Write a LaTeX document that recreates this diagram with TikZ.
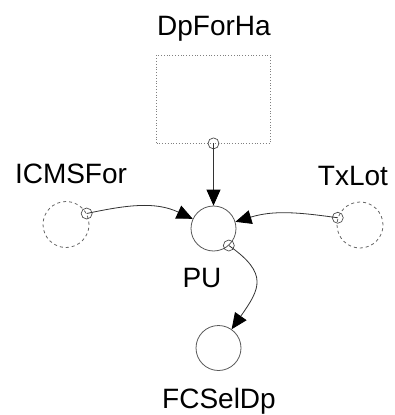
\documentclass[tikz,border=0pt]{standalone}
\usepackage{fontspec}
\setmainfont{Liberation Sans}
\usetikzlibrary{arrows.meta}
\begin{document}
\begin{tikzpicture}[x=1pt,y=-1pt,
  lbl/.style={inner sep=0pt, anchor=base, font=\fontsize{28}{28}\selectfont},
  aux/.style={circle, draw=gray!70!black, line width=0.8pt, minimum size=45pt, inner sep=0pt},
  cloud/.style={circle, draw=gray!80!black, dashed, line width=0.8pt, minimum size=46pt, inner sep=0pt},
  port/.style={circle, draw=gray!60!black, line width=0.7pt, minimum size=11pt, inner sep=0pt},
  stockbox/.style={draw=gray, dotted, line width=0.8pt, minimum width=114pt, minimum height=88pt, inner sep=0pt},
  link/.style={draw=gray!40!black, line width=0.8pt, -{Triangle[length=16pt,width=14pt,color=black]}},
]
\useasboundingbox (0,0) rectangle (395,415);
% stock
\node[stockbox] (dp) at (213.5,99) {};
\node[lbl] (dplbl) at (214,35) {DpForHa};
% auxiliaries
\node[aux] (pu) at (213.5,228.5) {};
\node[lbl] (pulbl) at (202,287) {PU};
\node[aux] (fc) at (218.5,348) {};
\node[lbl] (fclbl) at (219,408) {FCSelDp};
% clouds
\node[cloud] (icms) at (66,224.5) {};
\node[lbl] (icmslbl) at (71,183) {ICMSFor};
\node[cloud] (tx) at (360,225) {};
\node[lbl] (txlbl) at (353,185) {TxLot};
% ports
\node[port] (p1) at (dp.south) {};
\node[port] (p2) at (icms.28) {};
\node[port] (p3) at (tx.162) {};
\node[port] (p4) at (pu.-48) {};
% connectors
\draw[link] (p1.center) -- (pu.north);
\draw[link] (p2.center) to[out=12,in=155] (pu);
\draw[link] (p3.center) to[out=172,in=17] (pu);
\draw[link] (p4.center) to[out=-35,in=55,looseness=1.5] (fc);
\end{tikzpicture}
\end{document}
